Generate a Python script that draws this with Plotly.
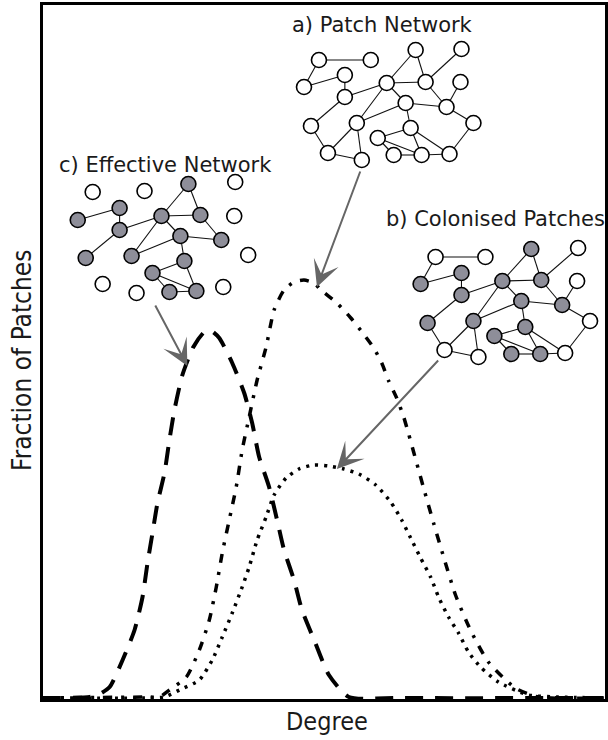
import plotly.graph_objects as go

# ---------------- degree distributions (degree, fraction of patches) ----------------
deg_effective = [0.0, 4.7, 5.7, 6.7, 8.0, 9.2, 10.0, 10.5, 11.0, 11.5, 12.2, 12.7, 13.2, 14.0, 15.1,
                 16.2, 16.9, 17.7, 19.0, 20.2, 21.0, 21.7, 22.7, 23.5, 24.2, 25.2, 26.0, 27.3, 28.7,
                 30.7, 35.7, 56.4]
frac_effective = [0.001, 0.002, 0.005, 0.012, 0.039, 0.069, 0.102, 0.136, 0.166, 0.196, 0.226, 0.259,
                  0.289, 0.324, 0.352, 0.367, 0.368, 0.361, 0.336, 0.306, 0.276, 0.242, 0.212, 0.179,
                  0.149, 0.119, 0.089, 0.057, 0.024, 0.002, 0.001, 0.001]

deg_patch = [0.0, 10.7, 11.7, 12.7, 14.4, 15.7, 16.7, 17.4, 18.0, 18.7, 19.4, 20.0, 20.7, 21.5, 22.4,
             23.2, 24.2, 25.2, 26.2, 27.2, 27.9, 29.5, 30.9, 32.1, 33.2, 34.0, 34.7, 35.5, 36.2, 36.7,
             37.2, 37.7, 38.2, 39.2, 40.3, 41.4, 42.9, 44.7, 47.4, 49.7, 56.4]
frac_patch = [0.001, 0.002, 0.002, 0.009, 0.022, 0.049, 0.079, 0.112, 0.146, 0.179, 0.212, 0.249, 0.282,
              0.319, 0.352, 0.389, 0.409, 0.417, 0.419, 0.416, 0.409, 0.396, 0.381, 0.366, 0.351, 0.336,
              0.318, 0.301, 0.282, 0.265, 0.247, 0.229, 0.211, 0.176, 0.139, 0.104, 0.069, 0.037, 0.011,
              0.002, 0.001]

deg_colonised = [0.0, 10.7, 12.2, 13.7, 15.7, 17.0, 18.0, 19.0, 20.0, 20.7, 21.5, 22.4, 23.2, 24.4, 25.7,
                 27.2, 28.7, 30.2, 31.7, 33.4, 34.9, 36.0, 36.9, 37.9, 38.9, 39.7, 40.7, 41.7, 42.7, 44.0,
                 45.7, 48.7, 51.7, 56.4]
frac_colonised = [0.001, 0.001, 0.002, 0.009, 0.019, 0.039, 0.062, 0.086, 0.112, 0.132, 0.159, 0.182,
                  0.204, 0.221, 0.230, 0.234, 0.233, 0.230, 0.225, 0.214, 0.197, 0.179, 0.161, 0.141,
                  0.122, 0.102, 0.082, 0.066, 0.047, 0.031, 0.017, 0.004, 0.002, 0.001]

# ---------------- network sketches (diagram coordinates, y downward) ----------------
patch_x = [320, 372, 417, 463, 305, 346, 388, 427, 462, 346, 407, 448, 312, 358, 412, 475, 379, 329, 363, 395, 423, 451]
patch_y = [60, 60, 50, 49, 87, 75, 83, 82, 82, 97, 103, 107, 126, 123, 128, 123, 138, 153, 160, 155, 155, 154]

colon_x = [437, 487, 533, 580, 422, 463, 504, 543, 579, 463, 523, 564, 429, 475, 527, 592, 496, 446, 480, 513, 542, 567]
colon_y = [257, 257, 249, 248, 284, 273, 281, 280, 281, 295, 301, 305, 323, 321, 327, 321, 336, 350, 357, 354, 354, 353]

effect_x = [93, 145, 189, 236, 78, 120, 162, 201, 235, 120, 181, 222, 86, 132, 185, 249, 153, 103, 137, 170, 197, 224]
effect_y = [192, 191, 184, 182, 220, 208, 216, 215, 216, 230, 236, 240, 258, 256, 261, 255, 273, 284, 293, 292, 291, 287]

colonised = [0, 0, 1, 0, 1, 1, 1, 1, 0, 1, 1, 1, 1, 1, 1, 0, 1, 0, 0, 1, 1, 0]

links = [(1, 2), (1, 5), (5, 6), (6, 10), (10, 7), (7, 3), (3, 8), (7, 8), (8, 4), (8, 12), (9, 12),
         (7, 11), (11, 12), (12, 16), (7, 14), (11, 14), (10, 13), (13, 18), (14, 18), (14, 19),
         (11, 15), (15, 17), (15, 21), (15, 22), (17, 20), (17, 21), (20, 21), (21, 22), (22, 16), (18, 19)]

labels = ["a) Patch Network", "b) Colonised Patches", "c) Effective Network"]
label_x = [291, 385, 57]
label_y = [25, 219, 165]

arrow_tail_x = [362, 441, 155]
arrow_tail_y = [170, 359, 304]
arrow_tip_x = [318, 338, 188]
arrow_tip_y = [287, 469, 366]

W, H = 608, 740
L, R, T, B = 43, 607, 5, 699

GRAY = "#8e8e99"
fig = go.Figure()


def add_network(xs, ys, fills, edge_list):
    ex, ey = [], []
    for a, b in edge_list:
        ex += [xs[a - 1], xs[b - 1], None]
        ey += [ys[a - 1], ys[b - 1], None]
    fig.add_trace(go.Scatter(x=ex, y=ey, mode="lines", line=dict(color="#111", width=1.1),
                             hoverinfo="skip", showlegend=False, xaxis="x", yaxis="y"))
    fig.add_trace(go.Scatter(x=xs, y=ys, mode="markers",
                             marker=dict(size=15, color=fills, line=dict(color="#000", width=1.6)),
                             hoverinfo="skip", showlegend=False, xaxis="x", yaxis="y"))


add_network(patch_x, patch_y, ["white"] * len(patch_x), links)
add_network(colon_x, colon_y, [GRAY if c else "white" for c in colonised], links)
eff_links = [(a, b) for a, b in links if colonised[a - 1] and colonised[b - 1]]
add_network(effect_x, effect_y, [GRAY if c else "white" for c in colonised], eff_links)

# curves
fig.add_trace(go.Scatter(x=deg_effective, y=frac_effective, mode="lines", xaxis="x2", yaxis="y2",
                         line=dict(color="black", width=4, dash="18px,12px", shape="spline", smoothing=0.6),
                         hoverinfo="skip", showlegend=False))
fig.add_trace(go.Scatter(x=deg_patch, y=frac_patch, mode="lines", xaxis="x2", yaxis="y2",
                         line=dict(color="black", width=3.5, dash="9px,9px,3px,9px", shape="spline", smoothing=0.6),
                         hoverinfo="skip", showlegend=False))
fig.add_trace(go.Scatter(x=deg_colonised, y=frac_colonised, mode="lines", xaxis="x2", yaxis="y2",
                         line=dict(color="black", width=3.5, dash="3px,6px", shape="spline", smoothing=0.6),
                         hoverinfo="skip", showlegend=False))

ann = []
for t, x, y in zip(labels, label_x, label_y):
    ann.append(dict(text=t, x=x, y=y, xref="x", yref="y", xanchor="left", yanchor="middle",
                    showarrow=False, font=dict(family="DejaVu Sans", size=21, color="#1a1a1a")))
for tx, ty, hx, hy in zip(arrow_tail_x, arrow_tail_y, arrow_tip_x, arrow_tip_y):
    ann.append(dict(text="", x=hx, y=hy, ax=tx, ay=ty, xref="x", yref="y", axref="x", ayref="y",
                    showarrow=True, arrowhead=3, arrowsize=2.2, arrowwidth=2, arrowcolor="#666666",
                    standoff=0))
ann.append(dict(text="Degree", x=328, y=721, xref="x", yref="y", showarrow=False,
                xanchor="center", yanchor="middle",
                font=dict(family="DejaVu Sans Condensed, DejaVu Sans", size=25, color="#1a1a1a")))
ann.append(dict(text="Fraction of Patches", x=22, y=360, xref="x", yref="y", showarrow=False,
                textangle=-90, xanchor="center", yanchor="middle",
                font=dict(family="DejaVu Sans Condensed, DejaVu Sans", size=26, color="#1a1a1a")))

fig.update_layout(
    width=W, height=H, margin=dict(l=0, r=0, t=0, b=0),
    paper_bgcolor="white", plot_bgcolor="rgba(0,0,0,0)",
    xaxis=dict(range=[0, W], domain=[0, 1], visible=False, fixedrange=True),
    yaxis=dict(range=[H, 0], domain=[0, 1], visible=False, fixedrange=True),
    xaxis2=dict(range=[0, 56.4], domain=[L / W, R / W], anchor="y2", showline=True, mirror=True,
                linecolor="black", linewidth=2.5, showticklabels=False, ticks="", showgrid=False,
                zeroline=False, fixedrange=True),
    yaxis2=dict(range=[0, 0.694], domain=[(H - B) / H, (H - T) / H], anchor="x2", showline=True,
                mirror=True, linecolor="black", linewidth=2.5, showticklabels=False, ticks="",
                showgrid=False, zeroline=False, fixedrange=True),
    annotations=ann,
)

fig.write_html("out.html", config={"displayModeBar": False},
               post_script=["document.body.style.margin='0';document.body.style.overflow='hidden';"])
